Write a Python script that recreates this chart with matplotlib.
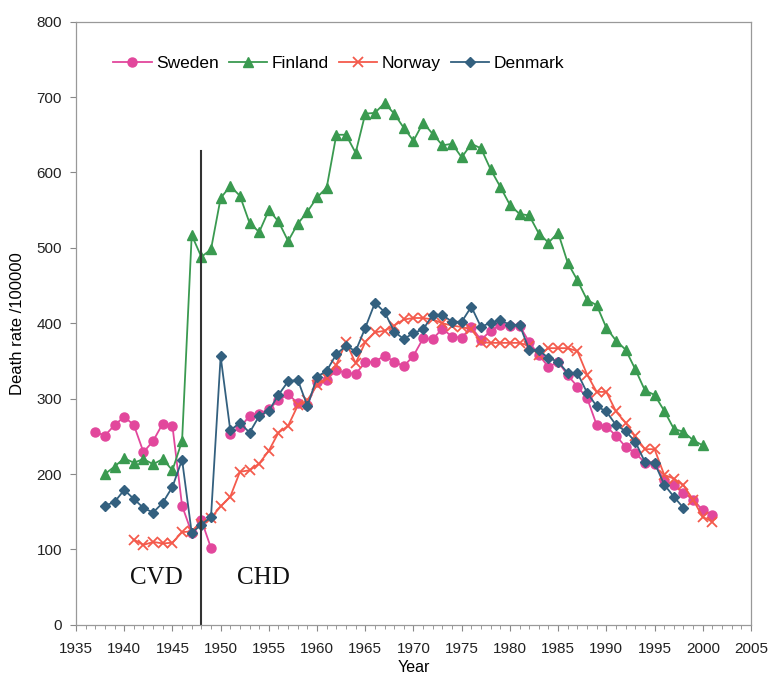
import numpy as np
import matplotlib
matplotlib.use("Agg")
import matplotlib.pyplot as plt
from matplotlib.ticker import MultipleLocator

# -------------------------------------------------
# Data, deaths per 100000
# -------------------------------------------------
nan = np.nan

sweden_start = 1937
sweden = [256, 251, 265,                                   # 1937-1939
          276, 265, 229, 244, 267, 264, 158, 122, 139, 102,  # 1940s
          nan, 253, 262, 277, 280, 286, 298, 306, 294, 292,  # 1950s
          322, 325, 338, 334, 333, 348, 349, 357, 349, 343,  # 1960s
          357, 380, 379, 393, 382, 381, 395, 378, 390, 398,  # 1970s
          397, 397, 375, 358, 342, 349, 331, 316, 301, 265,  # 1980s
          263, 251, 236, 228, 215, 213, 192, 186, 175, 166,  # 1990s
          152, 146]                                        # 2000-2001

finland_start = 1938
finland = [200, 210,                                        # 1938-1939
           221, 215, 220, 213, 220, 205, 244, 517, 488, 498,  # 1940s
           566, 582, 569, 533, 521, 550, 535, 509, 532, 548,  # 1950s
           567, 580, 650, 650, 626, 678, 679, 692, 678, 659,  # 1960s
           642, 666, 651, 636, 638, 620, 638, 632, 604, 581,  # 1970s
           557, 545, 543, 519, 507, 520, 480, 457, 431, 424,  # 1980s
           394, 377, 365, 339, 311, 305, 284, 260, 256, 245,  # 1990s
           238]                                             # 2000

norway_start = 1941
norway = [113, 106, 110, 108, 109, 123, 124, 134, 142,      # 1941-1949
          157, 170, 203, 205, 214, 231, 255, 264, 291, 298,  # 1950s
          318, 327, 345, 375, 347, 375, 388, 390, 397, 405,  # 1960s
          407, 407, 405, 400, 397, 395, 392, 375, 374, 374,  # 1970s
          374, 374, 370, 358, 367, 367, 367, 363, 332, 309,  # 1980s
          309, 283, 268, 250, 233, 233, 199, 194, 185, 166,  # 1990s
          143, 137]                                        # 2000-2001

denmark_start = 1938
denmark = [158, 163,                                        # 1938-1939
           179, 167, 155, 149, 162, 183, 219, 122, 133, 143,  # 1940s
           356, 258, 268, 255, 277, 284, 305, 323, 325, 290,  # 1950s
           329, 337, 359, 370, 363, 394, 427, 415, 389, 379,  # 1960s
           387, 392, 411, 411, 402, 402, 422, 395, 401, 404,  # 1970s
           398, 398, 365, 364, 354, 349, 334, 334, 308, 290,  # 1980s
           283, 265, 257, 243, 216, 215, 186, 170, 155]       # 1990-1998

split_year = 1948

# -------------------------------------------------
# Plot
# -------------------------------------------------
plt.rcParams['font.family'] = ['Liberation Sans', 'DejaVu Sans']

fig = plt.figure(figsize=(7.7, 6.77), dpi=100)
ax = fig.add_axes([0.0987, 0.077, 0.8766, 0.891])

series = [
    ('Sweden', sweden_start, sweden, '#e2479c', 'o', 6.5, 1.0),
    ('Finland', finland_start, finland, '#3a9a50', '^', 7.5, 1.0),
    ('Norway', norway_start, norway, '#f45a4c', 'x', 7.5, 1.3),
    ('Denmark', denmark_start, denmark, '#33607f', 'D', 5.5, 1.0),
]

for name, start, vals, col, mk, ms, mew in series:
    yrs = np.arange(start, start + len(vals))
    ax.plot(yrs, vals, color=col, marker=mk, markersize=ms, markeredgewidth=mew,
            linewidth=1.3, label=name)

# CVD / CHD divider
ax.plot([split_year, split_year], [0, 628], color='#333333', linewidth=1.5)
ax.text(1943.3, 62, 'CVD', family=['Liberation Serif'], fontsize=18,
        ha='center', va='center', color='#111111')
ax.text(1954.4, 62, 'CHD', family=['Liberation Serif'], fontsize=18,
        ha='center', va='center', color='#111111')

ax.set_xlim(1935, 2005)
ax.set_ylim(0, 800)
ax.xaxis.set_major_locator(MultipleLocator(5))
ax.xaxis.set_minor_locator(MultipleLocator(1))
ax.yaxis.set_major_locator(MultipleLocator(100))
ax.tick_params(axis='both', labelsize=11, colors='#222222', direction='out', length=4,
               width=0.8)
ax.tick_params(axis='x', which='major', pad=8, color='#888888')
ax.tick_params(axis='x', which='minor', direction='out', length=3, width=0.6, color='#888888')
ax.tick_params(axis='y', pad=6, color='#888888')
for sp in ax.spines.values():
    sp.set_color('#999999')
    sp.set_linewidth(0.9)

ax.set_xlabel('Year', fontsize=11.5, labelpad=3)
ax.set_ylabel('Death rate /100000', fontsize=12, labelpad=8)

ax.legend(loc='center left', bbox_to_anchor=(0.045, 0.93), ncol=4, frameon=False,
          fontsize=12.5, handlelength=2.2, columnspacing=0.6, handletextpad=0.25,
          borderaxespad=0)

fig.savefig('out.png', dpi=100)
